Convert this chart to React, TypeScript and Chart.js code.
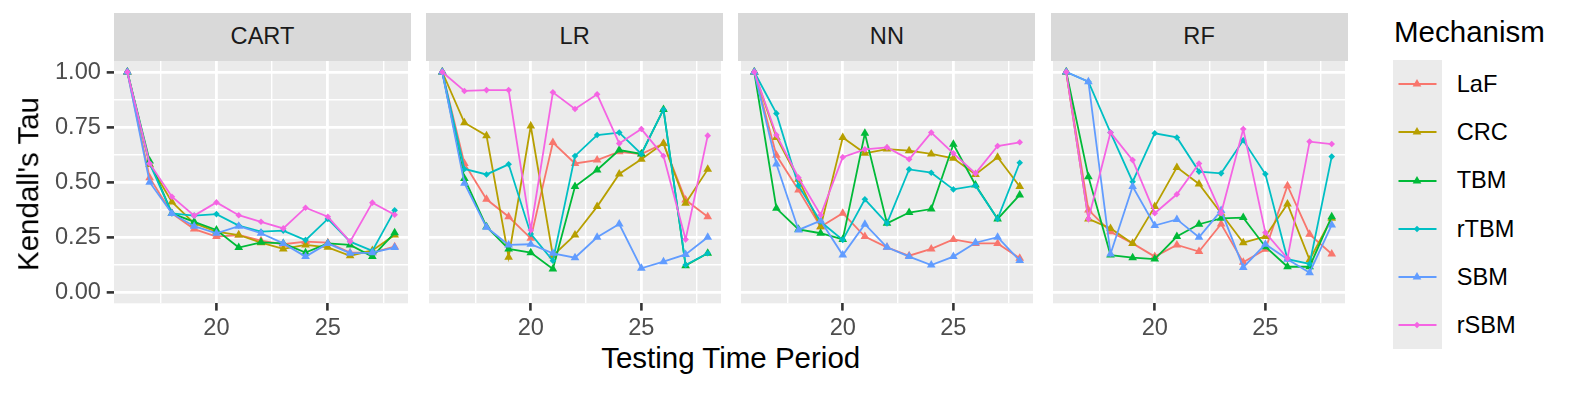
import React, { useEffect, useRef } from 'react';
import { Chart, registerables } from 'chart.js';

Chart.register(...registerables);

// ---------------- data ----------------
const periods = [16, 17, 18, 19, 20, 21, 22, 23, 24, 25, 26, 27, 28];
const mechanisms = ['LaF', 'CRC', 'TBM', 'rTBM', 'SBM', 'rSBM'];
const models = ['CART', 'LR', 'NN', 'RF'];
const yTickLabels = [0, 0.25, 0.5, 0.75, 1];
const yMinorTicks = [0.125, 0.375, 0.625, 0.875];
const xTickLabels = [20, 25];
const xMinorTicks = [17.5, 22.5, 27.5];

const cartLaF = [1, 0.52, 0.358, 0.287, 0.253, 0.26, 0.234, 0.218, 0.23, 0.225, 0.18, 0.18, 0.207];
const cartCRC = [1, 0.58, 0.41, 0.313, 0.275, 0.26, 0.225, 0.197, 0.215, 0.204, 0.166, 0.19, 0.26];
const cartTBM = [1, 0.596, 0.358, 0.32, 0.283, 0.203, 0.227, 0.222, 0.18, 0.222, 0.215, 0.162, 0.27];
const cartRTBM = [1, 0.585, 0.358, 0.348, 0.355, 0.303, 0.275, 0.28, 0.237, 0.333, 0.23, 0.188, 0.372];
const cartSBM = [1, 0.5, 0.358, 0.3, 0.268, 0.3, 0.268, 0.222, 0.162, 0.222, 0.177, 0.18, 0.203];
const cartRSBM = [1, 0.585, 0.434, 0.348, 0.408, 0.35, 0.32, 0.29, 0.384, 0.343, 0.23, 0.407, 0.352];

const lrLaF = [1, 0.585, 0.422, 0.343, 0.245, 0.68, 0.585, 0.6, 0.638, 0.628, 0.676, 0.419, 0.343];
const lrCRC = [1, 0.77, 0.711, 0.159, 0.755, 0.166, 0.26, 0.389, 0.537, 0.604, 0.676, 0.404, 0.558];
const lrTBM = [1, 0.517, 0.298, 0.197, 0.18, 0.106, 0.48, 0.555, 0.646, 0.628, 0.83, 0.121, 0.177];
const lrRTBM = [1, 0.56, 0.535, 0.581, 0.265, 0.143, 0.619, 0.714, 0.725, 0.628, 0.83, 0.124, 0.177];
const lrSBM = [1, 0.495, 0.295, 0.215, 0.218, 0.177, 0.157, 0.25, 0.31, 0.109, 0.139, 0.172, 0.25];
const lrRSBM = [1, 0.914, 0.918, 0.918, 0.283, 0.908, 0.832, 0.899, 0.676, 0.741, 0.619, 0.24, 0.711];

const nnLaF = [1, 0.622, 0.464, 0.298, 0.359, 0.253, 0.204, 0.166, 0.197, 0.24, 0.222, 0.222, 0.154];
const nnCRC = [1, 0.703, 0.513, 0.298, 0.703, 0.631, 0.65, 0.643, 0.628, 0.608, 0.535, 0.613, 0.48];
const nnTBM = [1, 0.381, 0.286, 0.268, 0.24, 0.722, 0.313, 0.362, 0.378, 0.672, 0.487, 0.333, 0.442];
const nnRTBM = [1, 0.812, 0.484, 0.32, 0.238, 0.422, 0.313, 0.558, 0.543, 0.467, 0.484, 0.333, 0.588];
const nnSBM = [1, 0.582, 0.283, 0.325, 0.169, 0.309, 0.204, 0.162, 0.124, 0.162, 0.225, 0.25, 0.144];
const nnRSBM = [1, 0.714, 0.52, 0.351, 0.613, 0.649, 0.658, 0.604, 0.725, 0.631, 0.54, 0.664, 0.681];

const rfLaF = [1, 0.374, 0.275, 0.222, 0.162, 0.215, 0.185, 0.31, 0.136, 0.195, 0.484, 0.263, 0.174];
const rfCRC = [1, 0.333, 0.29, 0.222, 0.389, 0.567, 0.492, 0.359, 0.225, 0.253, 0.401, 0.147, 0.336];
const rfTBM = [1, 0.525, 0.169, 0.157, 0.151, 0.253, 0.309, 0.336, 0.339, 0.207, 0.116, 0.116, 0.343];
const rfRTBM = [1, 0.956, 0.725, 0.502, 0.722, 0.703, 0.548, 0.54, 0.69, 0.537, 0.15, 0.129, 0.616];
const rfSBM = [1, 0.956, 0.174, 0.48, 0.303, 0.331, 0.25, 0.371, 0.113, 0.218, 0.15, 0.089, 0.306];
const rfRSBM = [1, 0.333, 0.725, 0.6, 0.359, 0.445, 0.585, 0.359, 0.741, 0.271, 0.154, 0.684, 0.673];

const modelSeries = [
  [cartLaF, cartCRC, cartTBM, cartRTBM, cartSBM, cartRSBM],
  [lrLaF, lrCRC, lrTBM, lrRTBM, lrSBM, lrRSBM],
  [nnLaF, nnCRC, nnTBM, nnRTBM, nnSBM, nnRSBM],
  [rfLaF, rfCRC, rfTBM, rfRTBM, rfSBM, rfRSBM],
];

// ---------------- styles ----------------
const colors = ['#F8766D', '#B79F00', '#00BA38', '#00BFC4', '#619CFF', '#F564E3'];
const shapes = ['triangle', 'triangle', 'triangle', 'rectRot', 'triangle', 'rectRot'];
const FONT = '"Liberation Sans", Arial, Helvetica, sans-serif';
const SMALL = 23.6;
const BIG = 29.5;
const TRI_R = 5;
const DIA_R = 3.3;

const PANEL_LEFTS = [114, 426.2, 738.4, 1050.6];
const PANEL_W = 297;
const STRIP_TOP = 13.3;
const PANEL_TOP = 61;
const PANEL_BOTTOM = 303.3;
const CANVAS_TOP = 40;
const CANVAS_H = 300;

const near = (a: number, list: number[]) => list.some((b) => Math.abs(a - b) < 1e-6);

const bgPlugin = {
  id: 'panelBg',
  beforeDraw(chart: any) {
    const { ctx, chartArea } = chart;
    ctx.save();
    ctx.fillStyle = '#EBEBEB';
    ctx.fillRect(chartArea.left, chartArea.top, chartArea.right - chartArea.left, chartArea.bottom - chartArea.top);
    ctx.restore();
  },
};

function Panel({ index }: { index: number }) {
  const ref = useRef<HTMLCanvasElement>(null);
  const pl = PANEL_LEFTS[index];
  const first = index === 0;
  const canvasLeft = first ? 0 : Math.floor(pl) - 2;
  const yW = first ? 114 : 0;
  const padLeft = pl - canvasLeft - yW;
  const canvasW = Math.ceil(pl + PANEL_W) + 2 - canvasLeft;
  const padRight = canvasLeft + canvasW - (pl + PANEL_W);

  useEffect(() => {
    if (!ref.current) return;
    const series = modelSeries[index];
    const datasets = mechanisms.map((m, i) => ({
      label: m,
      data: periods.map((p, j) => ({ x: p, y: series[i][j] })),
      borderColor: colors[i],
      backgroundColor: colors[i],
      borderWidth: 1.8,
      pointStyle: shapes[i],
      pointRadius: shapes[i] === 'triangle' ? TRI_R : DIA_R,
      pointBorderWidth: 0,
      pointBackgroundColor: colors[i],
      tension: 0,
      order: mechanisms.length - i,
    }));
    const chart = new Chart(ref.current, {
      type: 'line',
      data: { datasets },
      plugins: [bgPlugin],
      options: {
        animation: false,
        responsive: false,
        devicePixelRatio: 1,
        events: [],
        layout: { padding: { left: padLeft, right: padRight, top: PANEL_TOP - CANVAS_TOP, bottom: 0 } },
        plugins: { legend: { display: false }, tooltip: { enabled: false } },
        scales: {
          x: {
            type: 'linear',
            min: 15.4,
            max: 28.6,
            afterBuildTicks: (s: any) => {
              s.ticks = [17.5, 20, 22.5, 25, 27.5].map((v) => ({ value: v }));
            },
            afterFit: (s: any) => {
              s.height = CANVAS_H - (PANEL_BOTTOM - CANVAS_TOP);
            },
            border: { display: false },
            grid: {
              color: '#FFFFFF',
              lineWidth: (c: any) => (near(c.tick?.value, xMinorTicks) ? 1.4 : 2.8),
              drawTicks: true,
              tickLength: 7.3,
              tickWidth: 2.6,
              tickColor: (c: any) => (near(c.tick?.value, xTickLabels) ? '#333333' : 'rgba(0,0,0,0)'),
            },
            ticks: {
              autoSkip: false,
              maxRotation: 0,
              minRotation: 0,
              padding: 4,
              color: '#4D4D4D',
              font: { family: FONT, size: SMALL },
              callback: (v: any) => (near(Number(v), xTickLabels) ? String(v) : ''),
            },
          },
          y: {
            type: 'linear',
            min: -0.05,
            max: 1.05,
            afterBuildTicks: (s: any) => {
              s.ticks = [0, 0.125, 0.25, 0.375, 0.5, 0.625, 0.75, 0.875, 1].map((v) => ({ value: v }));
            },
            afterFit: (s: any) => {
              s.width = yW;
            },
            border: { display: false },
            grid: {
              color: '#FFFFFF',
              lineWidth: (c: any) => (near(c.tick?.value, yMinorTicks) ? 1.4 : 2.8),
              drawTicks: first,
              tickLength: 7.3,
              tickWidth: 2.6,
              tickColor: (c: any) => (near(c.tick?.value, yTickLabels) ? '#333333' : 'rgba(0,0,0,0)'),
            },
            ticks: {
              display: first,
              autoSkip: false,
              padding: 5.8,
              color: '#4D4D4D',
              font: { family: FONT, size: SMALL },
              callback: (v: any) => (near(Number(v), yTickLabels) ? Number(v).toFixed(2) : ''),
            },
          },
        },
      } as any,
    });
    return () => chart.destroy();
  }, [index]);

  return (
    <>
      <div
        style={{
          position: 'absolute',
          left: pl,
          top: STRIP_TOP,
          width: PANEL_W,
          height: PANEL_TOP - STRIP_TOP,
          background: '#D9D9D9',
          color: '#1A1A1A',
          fontFamily: FONT,
          fontSize: SMALL,
          lineHeight: `${PANEL_TOP - STRIP_TOP}px`,
          textAlign: 'center',
        }}
      >
        {models[index]}
      </div>
      <canvas
        ref={ref}
        width={canvasW}
        height={CANVAS_H}
        style={{ position: 'absolute', left: canvasLeft, top: CANVAS_TOP, width: canvasW, height: CANVAS_H }}
      />
    </>
  );
}

function LegendKey({ i }: { i: number }) {
  const c = colors[i];
  const cx = 24;
  const cy = 24;
  const tri = shapes[i] === 'triangle';
  const r = tri ? TRI_R : DIA_R;
  const marker = tri ? (
    <polygon
      points={`${cx},${cy - r} ${cx + r * 0.866},${cy + r / 2} ${cx - r * 0.866},${cy + r / 2}`}
      fill={c}
    />
  ) : (
    <polygon points={`${cx},${cy - r} ${cx + r},${cy} ${cx},${cy + r} ${cx - r},${cy}`} fill={c} />
  );
  return (
    <svg width={48} height={48} style={{ display: 'block' }}>
      <line x1={5.5} y1={cy} x2={43.5} y2={cy} stroke={c} strokeWidth={1.8} />
      {marker}
    </svg>
  );
}

export default function App() {
  const itemH = 48.2;
  const keysTop = 60;
  return (
    <div
      style={{
        position: 'absolute',
        left: 0,
        top: 0,
        width: 1578,
        height: 393,
        background: '#FFFFFF',
        fontFamily: FONT,
        overflow: 'hidden',
      }}
    >
      {models.map((m, i) => (
        <Panel key={m} index={i} />
      ))}
      {/* y-axis title */}
      <div
        style={{
          position: 'absolute',
          left: 27.5,
          top: 183.5,
          transform: 'translate(-50%, -50%) rotate(-90deg)',
          fontSize: BIG,
          lineHeight: 1,
          whiteSpace: 'nowrap',
          color: '#000000',
        }}
      >
        Kendall's Tau
      </div>
      {/* x-axis title */}
      <div
        style={{
          position: 'absolute',
          left: 730.7,
          top: 343,
          transform: 'translateX(-50%)',
          fontSize: BIG,
          lineHeight: 1,
          whiteSpace: 'nowrap',
          color: '#000000',
        }}
      >
        Testing Time Period
      </div>
      {/* legend */}
      <div
        style={{
          position: 'absolute',
          left: 1394,
          top: 17.4,
          fontSize: BIG,
          lineHeight: 1,
          whiteSpace: 'nowrap',
          color: '#000000',
        }}
      >
        Mechanism
      </div>
      <div
        style={{
          position: 'absolute',
          left: 1393,
          top: keysTop,
          width: 48.5,
          height: itemH * mechanisms.length,
          background: '#EBEBEB',
        }}
      />
      {mechanisms.map((m, i) => (
        <React.Fragment key={m}>
          <div style={{ position: 'absolute', left: 1393.2, top: keysTop + i * itemH + (itemH - 48) / 2 }}>
            <LegendKey i={i} />
          </div>
          <div
            style={{
              position: 'absolute',
              left: 1456.7,
              top: keysTop + i * itemH,
              height: itemH,
              lineHeight: `${itemH}px`,
              fontSize: SMALL,
              color: '#000000',
              whiteSpace: 'nowrap',
            }}
          >
            {m}
          </div>
        </React.Fragment>
      ))}
    </div>
  );
}
